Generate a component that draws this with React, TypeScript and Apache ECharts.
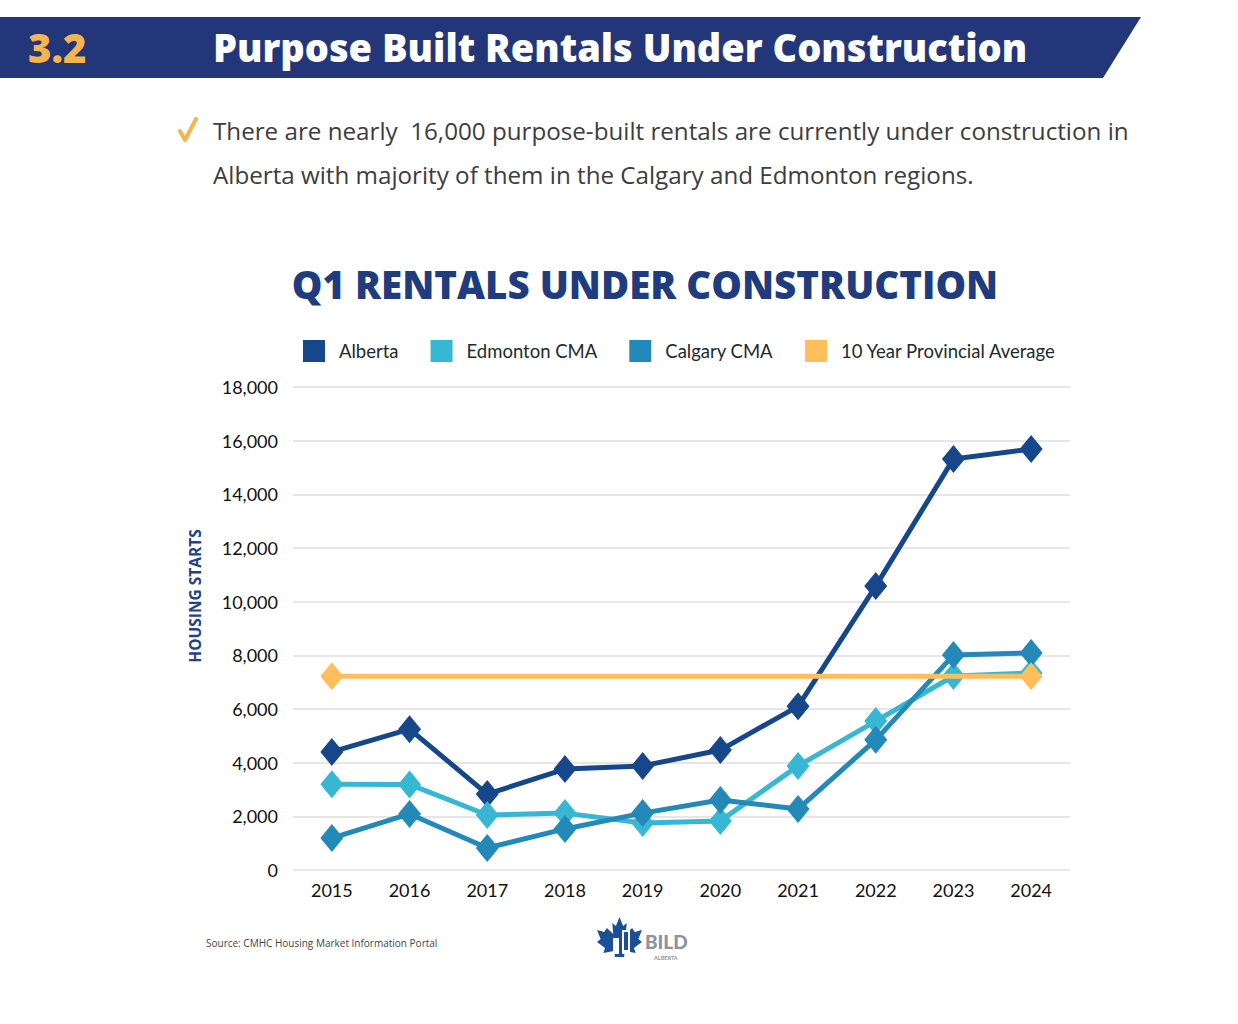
import React, { useEffect, useRef } from "react";
import * as echarts from "echarts";

const years = ["2015", "2016", "2017", "2018", "2019", "2020", "2021", "2022", "2023", "2024"];
const alberta = [4400, 5250, 2830, 3760, 3880, 4470, 6100, 10580, 15320, 15690];
const edmonton = [3200, 3190, 2050, 2120, 1750, 1830, 3880, 5550, 7230, 7340];
const calgary = [1190, 2090, 820, 1530, 2120, 2610, 2270, 4850, 8010, 8090];
const provAvg = [7220, 7220, 7220, 7220, 7220, 7220, 7220, 7220, 7220, 7220];

const seriesNames = ["Alberta", "Edmonton CMA", "Calgary CMA", "10 Year Provincial Average"];
const seriesColors = ["#17478b", "#36b8d5", "#2289b8", "#ffbe5c"];

const leafPath =
  "M50 0 L58 18 L66 12 L64 34 L78 22 L84 30 L100 26 L92 44 L100 50 L82 62 L86 72 L62 68 L60 80 L40 80 L38 68 L14 72 L18 62 L0 50 L8 44 L0 26 L16 30 L22 22 L36 34 L34 12 L42 18 Z";

export default function App() {
  const ref = useRef<HTMLDivElement>(null);
  useEffect(() => {
    if (!ref.current) return;
    try {
      echarts.graphic.registerShape("leaf", echarts.graphic.extendPath(leafPath, {}));
    } catch (e) {}
    const chart = echarts.init(ref.current, null, { renderer: "svg" });
    const font = "Lato, 'Noto Sans', sans-serif";
    const mk = (i: number, data: number[], endsOnly = false) => ({
      name: seriesNames[i],
      type: "line",
      data,
      symbol: endsOnly
        ? (_v: any, p: any) => (p.dataIndex === 0 || p.dataIndex === data.length - 1 ? "diamond" : "none")
        : "diamond",
      symbolSize: [23, 28],
      showAllSymbol: true,
      lineStyle: { color: seriesColors[i], width: 5 },
      itemStyle: { color: seriesColors[i] },
      z: 2 + i,
    });
    chart.setOption({
      animation: false,
      backgroundColor: "#ffffff",
      textStyle: { fontFamily: font },
      grid: { left: 293, right: 168, top: 387, bottom: 154 },
      legend: {
        left: 298,
        top: 335,
        icon: "rect",
        itemWidth: 22,
        itemHeight: 22,
        itemGap: 32,
        textStyle: { fontSize: 18.5, color: "#1c2b2b", fontFamily: font, padding: [0, 0, 0, 9] },
        data: seriesNames,
      },
      xAxis: {
        type: "category",
        data: years,
        axisLine: { show: false },
        axisTick: { show: false },
        axisLabel: { fontSize: 18, color: "#111", margin: 11, fontFamily: font },
      },
      yAxis: {
        type: "value",
        min: 0,
        max: 18000,
        interval: 2000,
        axisLabel: {
          fontSize: 18,
          color: "#111",
          margin: 15,
          fontFamily: font,
          formatter: (v: number) => v.toLocaleString("en-US"),
        },
        splitLine: { lineStyle: { color: "#e6e6e6", width: 2 } },
      },
      series: [mk(0, alberta), mk(1, edmonton), mk(2, calgary), mk(3, provAvg, true)],
      graphic: [
        {
          type: "polygon",
          shape: { points: [[0, 17], [1141, 17], [1103, 78], [0, 78]] },
          style: { fill: "#24367a" },
        },
        {
          type: "text",
          x: 28,
          y: 47,
          style: {
            text: "3.2",
            fill: "#f6b44f",
            font: "800 40px 'Open Sans', sans-serif",
            verticalAlign: "middle",
          },
        },
        {
          type: "text",
          x: 213,
          y: 47,
          style: {
            text: "Purpose Built Rentals Under Construction",
            fill: "#ffffff",
            font: "800 38px 'Open Sans', sans-serif",
            verticalAlign: "middle",
          },
        },
        {
          type: "polyline",
          shape: { points: [[180, 131], [185, 140], [196, 119]] },
          style: { stroke: "#f6b44f", lineWidth: 4, fill: "none", lineCap: "round", lineJoin: "round" },
        },
        {
          type: "text",
          x: 213,
          y: 130,
          style: {
            text: "There are nearly  16,000 purpose-built rentals are currently under construction in",
            fill: "#3d3d3d",
            font: "24.2px 'Open Sans', sans-serif",
            verticalAlign: "middle",
          },
        },
        {
          type: "text",
          x: 213,
          y: 174,
          style: {
            text: "Alberta with majority of them in the Calgary and Edmonton regions.",
            fill: "#3d3d3d",
            font: "24.2px 'Open Sans', sans-serif",
            verticalAlign: "middle",
          },
        },
        {
          type: "text",
          x: 645,
          y: 284,
          style: {
            text: "Q1 RENTALS UNDER CONSTRUCTION",
            fill: "#1e3c7e",
            font: "800 38.5px 'Open Sans', sans-serif",
            align: "center",
            verticalAlign: "middle",
          },
        },
        {
          type: "text",
          x: 195,
          y: 596,
          rotation: Math.PI / 2,
          style: {
            text: "HOUSING STARTS",
            fill: "#1f4289",
            font: "bold 15.5px 'Open Sans', sans-serif",
            align: "center",
            verticalAlign: "middle",
          },
        },
        {
          type: "text",
          x: 206,
          y: 943,
          style: {
            text: "Source: CMHC Housing Market Information Portal",
            fill: "#444",
            font: "10px 'Open Sans', sans-serif",
            verticalAlign: "middle",
          },
        },
        {
          type: "leaf",
          x: 597,
          y: 917,
          scaleX: 0.45,
          scaleY: 0.5,
          style: { fill: "#1b4f99" },
        },
        {
          type: "rect",
          shape: { x: 613, y: 938, width: 6, height: 16 },
          style: { fill: "#ffffff" },
        },
        {
          type: "rect",
          shape: { x: 622, y: 930, width: 8, height: 24 },
          style: { fill: "#ffffff" },
        },
        {
          type: "rect",
          shape: { x: 624, y: 932, width: 4, height: 18 },
          style: { fill: "#1b4f99" },
        },
        {
          type: "text",
          x: 645,
          y: 941,
          style: { text: "BILD", fill: "#8d929b", font: "900 19px Lato, sans-serif", verticalAlign: "middle" },
        },
        {
          type: "text",
          x: 654,
          y: 958,
          style: { text: "ALBERTA", fill: "#8d929b", font: "bold 5.5px Lato, sans-serif", verticalAlign: "middle" },
        },
      ],
    });
    return () => chart.dispose();
  }, []);
  return (
    <div
      ref={ref}
      style={{ position: "fixed", left: 0, top: 0, width: 1238, height: 1024, background: "#fff" }}
    />
  );
}
